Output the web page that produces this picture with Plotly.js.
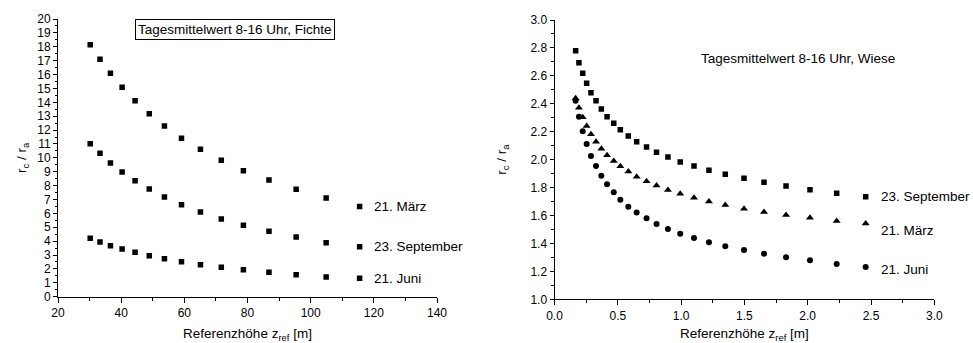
<!DOCTYPE html>
<html>
<head>
<meta charset="utf-8">
<script src="https://cdn.plot.ly/plotly-3.0.1.min.js"></script>
<style>html,body{margin:0;padding:0;background:#fff;}#chart{width:973px;height:343px;}</style>
</head>
<body>
<div id="chart"></div>
<script>
// Left panel: Fichte (reference height in m)
const xFichte = [30.2, 33.3, 36.6, 40.3, 44.4, 48.9, 53.7, 59.1, 65.1, 71.7, 78.7, 86.8, 95.4, 104.9, 115.5];
const fichteMaerz = [18.15, 17.1, 16.09, 15.08, 14.12, 13.18, 12.29, 11.41, 10.62, 9.82, 9.07, 8.40, 7.73, 7.11, 6.49];
const fichteSeptember = [11.02, 10.33, 9.63, 8.98, 8.35, 7.76, 7.18, 6.63, 6.10, 5.60, 5.14, 4.71, 4.30, 3.89, 3.60];
const fichteJuni = [4.21, 3.94, 3.67, 3.43, 3.20, 2.95, 2.74, 2.52, 2.30, 2.12, 1.94, 1.76, 1.58, 1.42, 1.33];

// Right panel: Wiese
const xWiese = [0.167, 0.193, 0.223, 0.254, 0.288, 0.328, 0.370, 0.415, 0.468, 0.520, 0.583, 0.649, 0.727, 0.806, 0.896, 0.993, 1.102, 1.220, 1.349, 1.497, 1.655, 1.829, 2.018, 2.229, 2.458];
const wieseSeptember = [2.780, 2.694, 2.618, 2.547, 2.479, 2.422, 2.363, 2.308, 2.260, 2.214, 2.169, 2.129, 2.091, 2.053, 2.019, 1.984, 1.955, 1.924, 1.896, 1.866, 1.838, 1.812, 1.785, 1.759, 1.734];
const wieseMaerz = [2.439, 2.372, 2.303, 2.241, 2.181, 2.129, 2.078, 2.031, 1.990, 1.953, 1.915, 1.878, 1.845, 1.814, 1.783, 1.756, 1.728, 1.700, 1.675, 1.649, 1.625, 1.604, 1.584, 1.561, 1.542];
const wieseJuni = [2.422, 2.308, 2.203, 2.112, 2.027, 1.955, 1.884, 1.823, 1.766, 1.713, 1.663, 1.621, 1.580, 1.540, 1.503, 1.470, 1.439, 1.409, 1.380, 1.353, 1.327, 1.301, 1.279, 1.253, 1.231];

const labelsFichte = ['21. März', '23. September', '21. Juni'];
const labelsWiese = ['23. September', '21. März', '21. Juni'];
const titleFichte = 'Tagesmittelwert 8-16 Uhr, Fichte';
const titleWiese = 'Tagesmittelwert 8-16 Uhr, Wiese';
const xTitle = 'Referenzhöhe z<sub>ref</sub> [m]';
const yTitle = 'r<sub>c</sub> / r<sub>a</sub>';

const FONT = 'Liberation Sans, Arial, sans-serif';

function sc(x, y, sym, size, xa, ya, name) {
  return {x: x, y: y, type: 'scatter', mode: 'markers', name: name, xaxis: xa, yaxis: ya,
    marker: {symbol: sym, size: size, color: '#000', line: {width: 0}}, showlegend: false, hoverinfo: 'x+y'};
}

const traces = [
  sc(xFichte, fichteMaerz, 'square', 5.5, 'x', 'y', labelsFichte[0]),
  sc(xFichte, fichteSeptember, 'square', 5.5, 'x', 'y', labelsFichte[1]),
  sc(xFichte, fichteJuni, 'square', 5.5, 'x', 'y', labelsFichte[2]),
  sc(xWiese, wieseSeptember, 'square', 5.5, 'x2', 'y2', labelsWiese[0]),
  sc(xWiese, wieseMaerz, 'triangle-up', 7, 'x2', 'y2', labelsWiese[1]),
  sc(xWiese, wieseJuni, 'circle', 6, 'x2', 'y2', labelsWiese[2])
];

const axBase = {
  showline: true, linecolor: '#000', linewidth: 1, mirror: false,
  showgrid: false, zeroline: false, ticks: 'outside', ticklen: 5, tickwidth: 1, tickcolor: '#000',
  tickfont: {family: FONT, size: 12, color: '#000'},
  title: {font: {family: FONT, size: 13.5, color: '#000'}}
};

function ax(extra) { return Object.assign(JSON.parse(JSON.stringify(axBase)), extra); }

const layout = {
  width: 973, height: 343,
  margin: {l: 0, r: 0, t: 0, b: 0},
  paper_bgcolor: '#fff', plot_bgcolor: '#fff',
  showlegend: false,
  font: {family: FONT, color: '#000'},
  xaxis: ax({domain: [58/973, 437/973], range: [20, 140], tick0: 20, dtick: 20, anchor: 'y',
    minor: {dtick: 10, ticks: 'outside', ticklen: 3, tickcolor: '#000'},
    title: {text: xTitle, standoff: 9, font: {family: FONT, size: 13.5, color: '#000'}}}),
  yaxis: ax({domain: [(343-296.7)/343, (343-19)/343], range: [0, 20], tick0: 0, dtick: 1, anchor: 'x',
    ticklen: 4, minor: {dtick: 0.5, ticks: 'outside', ticklen: 2, tickcolor: '#000'},
    title: {text: yTitle, standoff: 7, font: {family: FONT, size: 13.5, color: '#000'}}}),
  xaxis2: ax({domain: [554.5/973, 934.3/973], range: [0, 3], tick0: 0, dtick: 0.5, anchor: 'y2',
    tickformat: '.1f',
    minor: {dtick: 0.25, ticks: 'outside', ticklen: 3, tickcolor: '#000'},
    title: {text: xTitle, standoff: 9, font: {family: FONT, size: 13.5, color: '#000'}}}),
  yaxis2: ax({domain: [(343-299.3)/343, (343-20)/343], range: [1, 3], tick0: 1, dtick: 0.2, anchor: 'x2',
    tickformat: '.1f', ticklen: 4,
    minor: {dtick: 0.1, ticks: 'outside', ticklen: 3, tickcolor: '#000'},
    title: {text: yTitle, standoff: 20, font: {family: FONT, size: 13.5, color: '#000'}}}),
  annotations: []
};

const annFont = {family: FONT, size: 13.5, color: '#000'};
// Titles
layout.annotations.push({xref: 'paper', yref: 'paper', x: 235.3/973, y: (343-30)/343, xanchor: 'center', yanchor: 'middle',
  text: titleFichte, showarrow: false, font: annFont, bordercolor: '#000', borderwidth: 1, borderpad: 2, bgcolor: '#fff'});
layout.annotations.push({xref: 'paper', yref: 'paper', x: 798.3/973, y: (343-58.3)/343, xanchor: 'center', yanchor: 'middle',
  text: titleWiese, showarrow: false, font: annFont});

// Series labels next to the last point of each series
const lastF = xFichte.length - 1;
[[fichteMaerz, 0, 0], [fichteSeptember, 1, 0], [fichteJuni, 2, 0]].forEach(function (d) {
  layout.annotations.push({xref: 'x', yref: 'y', x: xFichte[lastF], y: d[0][lastF], xanchor: 'left', yanchor: 'middle',
    xshift: 12, yshift: d[2], text: labelsFichte[d[1]], showarrow: false, font: annFont});
});
const lastW = xWiese.length - 1;
[[wieseSeptember, 0, 0], [wieseMaerz, 1, -7], [wieseJuni, 2, -2.5]].forEach(function (d) {
  layout.annotations.push({xref: 'x2', yref: 'y2', x: xWiese[lastW], y: d[0][lastW], xanchor: 'left', yanchor: 'middle',
    xshift: 13, yshift: d[2], text: labelsWiese[d[1]], showarrow: false, font: annFont});
});

Plotly.newPlot('chart', traces, layout, {displayModeBar: false, staticPlot: true});
</script>
</body>
</html>
